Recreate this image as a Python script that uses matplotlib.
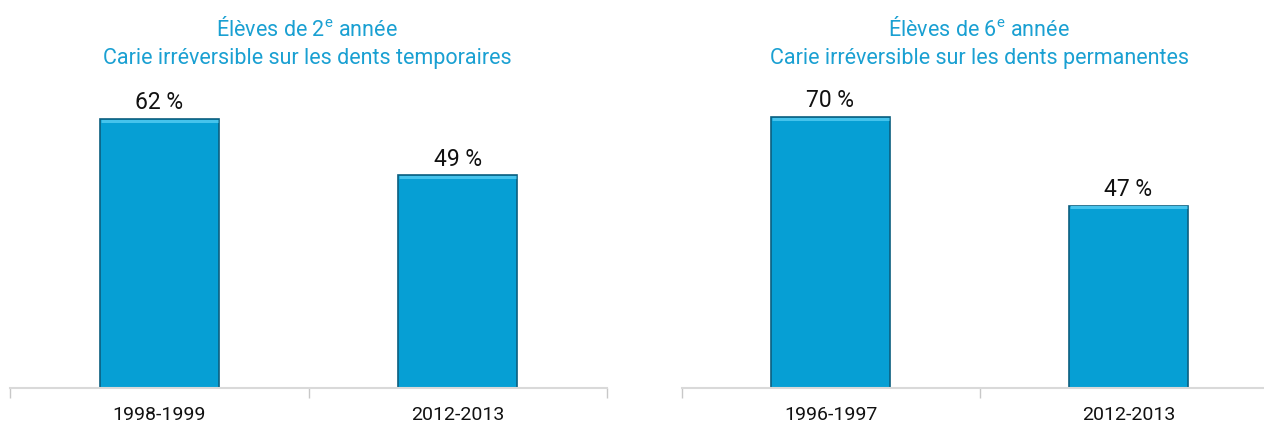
import matplotlib
matplotlib.use("Agg")
import matplotlib.pyplot as plt
from matplotlib.ticker import FixedLocator

FONT = ['Roboto', 'DejaVu Sans']
plt.rcParams['font.family'] = FONT
plt.rcParams['mathtext.fontset'] = 'custom'
plt.rcParams['mathtext.rm'] = 'Roboto'

# Data
left_categories = ['1998-1999', '2012-2013']
left_values = [62, 49]
right_categories = ['1996-1997', '2012-2013']
right_values = [70, 47]
left_title = ["Élèves de 2$^{\\mathrm{e}}$ année", "Carie irréversible sur les dents temporaires"]
right_title = ["Élèves de 6$^{\\mathrm{e}}$ année", "Carie irréversible sur les dents permanentes"]

BAR = '#069fd4'
EDGE = '#0c5f7f'
TOP = '#45c3ec'
TITLE_C = '#1aa0d2'
AXIS_C = '#d9d9d9'

W, H = 1264, 427
fig = plt.figure(figsize=(W / 100, H / 100), dpi=100)

def make_panel(rect, cats, vals, ylim, title, title_x):
    ax = fig.add_axes(rect)
    x = list(range(len(cats)))
    bars = ax.bar(x, vals, width=0.4, color=BAR, edgecolor=EDGE, linewidth=1.2, zorder=2)
    for p in bars.patches:
        ax.plot([p.get_x() + 0.004, p.get_x() + p.get_width() - 0.004],
                [p.get_height() * 0.992] * 2, color=TOP, lw=2.2, zorder=3,
                solid_capstyle='butt')
    ax.bar_label(bars, labels=[f"{v} %" for v in vals], padding=4, fontsize=16.5, color='#111111')
    ax.set_xlim(-0.5, len(cats) - 0.5)
    ax.set_ylim(*ylim)
    ax.set_xticks(x)
    ax.set_xticklabels(cats, fontsize=14, color='#111111')
    ax.tick_params(axis='x', which='major', length=0, pad=12)
    ax.xaxis.set_minor_locator(FixedLocator([i - 0.5 for i in range(len(cats) + 1)]))
    ax.tick_params(axis='x', which='minor', length=7, width=1, color='#c8c8c8')
    ax.set_yticks([])
    for s in ['top', 'right', 'left']:
        ax.spines[s].set_visible(False)
    ax.spines['bottom'].set_color(AXIS_C)
    ax.spines['bottom'].set_linewidth(1.5)
    fig.text(title_x, 1 - 29 / H, title[0], ha='center', va='center', fontsize=15.5, color=TITLE_C)
    fig.text(title_x, 1 - 59 / H, title[1], ha='center', va='center', fontsize=15.5, color=TITLE_C)
    return ax

make_panel([10 / W, 38 / H, 597 / W, 304 / H], left_categories, left_values, (0, 70), left_title, 307 / W)
make_panel([681.5 / W, 38 / H, 596 / W, 310 / H], right_categories, right_values, (0, 80), right_title, 979 / W)

fig.savefig('out.png', dpi=100)
